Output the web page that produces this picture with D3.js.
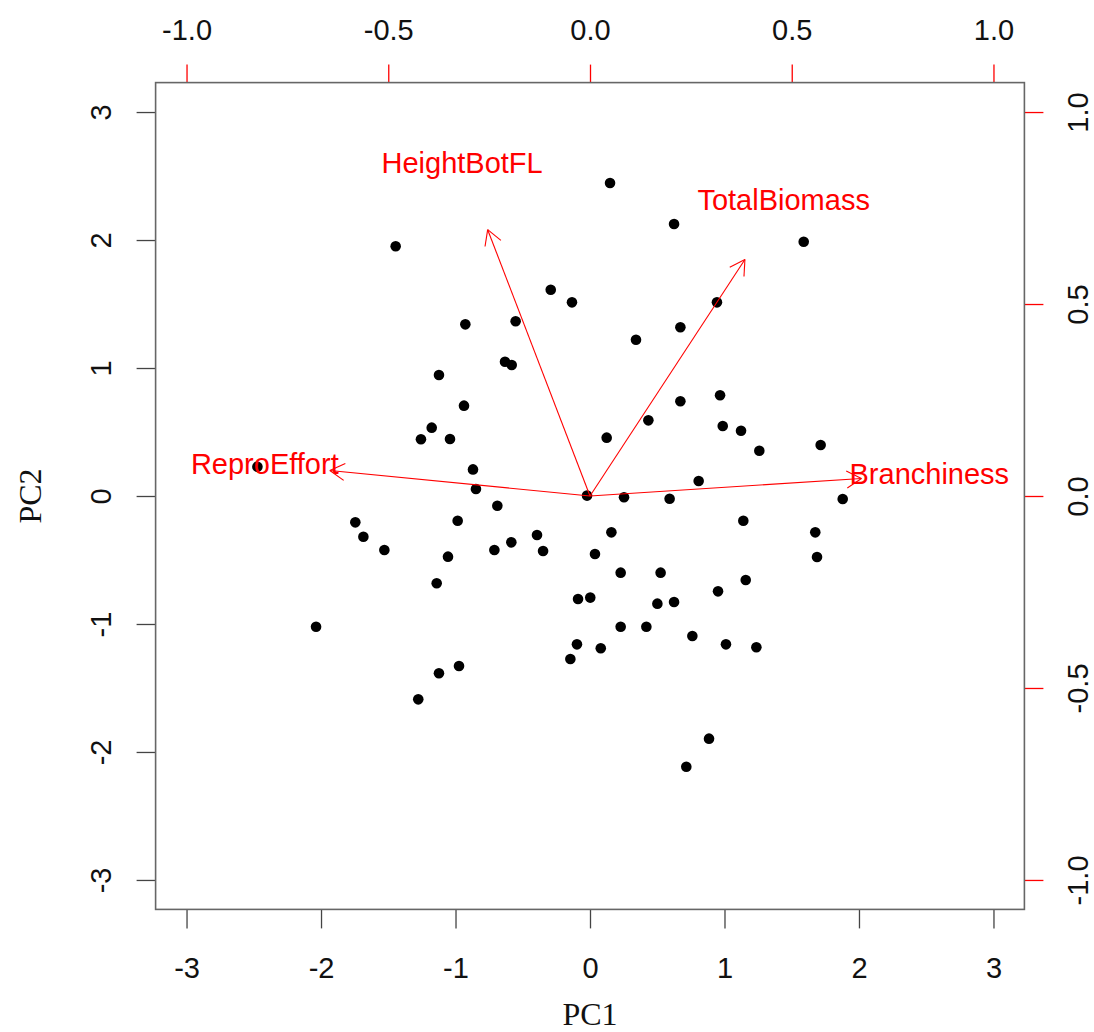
<!DOCTYPE html>
<html>
<head>
<meta charset="utf-8">
<script src="https://cdn.jsdelivr.net/npm/d3@7"></script>
<style>
  html, body { margin: 0; padding: 0; background: #fff; }
  svg { display: block; }
</style>
</head>
<body>
<svg id="chart" width="1094" height="1032"></svg>
<script>
// ---- data ----
const pc1 = [-1.445, 0.149, 0.625, -0.292, -0.134, 0.944, -0.927, -0.553, 0.672, 0.342,
  1.589, -1.123, -1.177, -1.257, -2.473, -1.745, -1.685, -1.529, -1.140, -2.037,
  -0.632, -0.582, -0.937, -1.041, 0.124, 0.434, 0.672, 0.967, 0.987, -0.870,
  -0.848, 0.808, -0.022, 0.253, 0.592, -0.689, -0.984, 0.159, -0.394, -0.585,
  -0.711, -0.349, -1.056, 0.037, 0.228, 0.525, 0.952, -0.089, 0.002, 0.501,
  0.625, 0.228, 0.419, 0.761, 1.123, 1.259, 1.715, 1.879, 1.140, 1.675,
  1.688, 1.158, -1.123, -1.277, -0.974, -0.097, -0.146, 0.080, 1.011, 0.885,
  0.716, 1.237];
const pc2 = [1.951, 2.445, 2.125, 1.612, 1.513, 1.513, 1.341, 1.365, 1.318, 1.221,
  1.987, 0.945, 0.534, 0.443, 0.229, -0.206, -0.318, -0.422, -0.682, -1.021,
  1.049, 1.023, 0.706, 0.445, 0.456, 0.591, 0.740, 0.787, 0.547, 0.208,
  0.055, 0.117, 0.003, -0.010, -0.021, -0.076, -0.193, -0.284, -0.305, -0.362,
  -0.422, -0.430, -0.474, -0.453, -0.599, -0.599, -0.745, -0.805, -0.794, -0.841,
  -0.828, -1.021, -1.021, -1.094, 0.510, 0.354, 0.398, -0.023, -0.193, -0.284,
  -0.477, -0.656, -1.385, -1.589, -1.328, -1.159, -1.273, -1.190, -1.159, -1.896,
  -2.115, -1.182];

const varNames = ["HeightBotFL", "TotalBiomass", "ReproEffort", "Branchiness"];
const loadX = [-0.317, 0.480, -0.806, 0.841];
const loadY = [0.867, 0.770, 0.083, 0.057];

const scoreTicks = [-3, -2, -1, 0, 1, 2, 3];
const loadTicks = [-1.0, -0.5, 0.0, 0.5, 1.0];

const scoreLim = [-3.23, 3.23];
const loadLim = [-3.23 / 3, 3.23 / 3];
const arrowFrac = 0.8;

// ---- layout ----
const L = 155.6, R = 1024.4, T = 82.6, B = 909.4;
const svg = d3.select("#chart");
const red = "#ff0000";
const sans = "'Liberation Sans', Arial, sans-serif";
const serif = "'Liberation Serif', 'Times New Roman', serif";

const x = d3.scaleLinear().domain(scoreLim).range([L, R]);
const y = d3.scaleLinear().domain(scoreLim).range([B, T]);
const x2 = d3.scaleLinear().domain(loadLim).range([L, R]);
const y2 = d3.scaleLinear().domain(loadLim).range([B, T]);

function styleAxis(g, col, textCol) {
  g.select(".domain").remove();
  g.selectAll(".tick line").attr("stroke", col).attr("stroke-width", 1.3);
  g.selectAll(".tick text").attr("fill", textCol).style("font-family", sans).style("font-size", "29px");
}

// bottom axis
const gB = svg.append("g").attr("transform", `translate(0,${B})`)
  .call(d3.axisBottom(x).tickValues(scoreTicks).tickSize(19).tickFormat(d => String(d)));
styleAxis(gB, "#444", "#111");
gB.selectAll(".tick text").attr("y", 58.6).attr("dy", "0.35em");

// left axis
const gL = svg.append("g").attr("transform", `translate(${L},0)`)
  .call(d3.axisLeft(y).tickValues(scoreTicks).tickSize(19).tickFormat(d => String(d)));
styleAxis(gL, "#444", "#111");
gL.selectAll(".tick text").attr("x", null).attr("dy", "0.35em")
  .attr("text-anchor", "middle").attr("transform", "translate(-55,0) rotate(-90)");

// top axis (loadings)
const gT = svg.append("g").attr("transform", `translate(0,${T})`)
  .call(d3.axisTop(x2).tickValues(loadTicks).tickSize(18).tickFormat(d => d.toFixed(1)));
styleAxis(gT, red, "#111");
gT.selectAll(".tick text").attr("y", -52.4).attr("dy", "0.35em");

// right axis (loadings)
const gR = svg.append("g").attr("transform", `translate(${R},0)`)
  .call(d3.axisRight(y2).tickValues(loadTicks).tickSize(19).tickFormat(d => d.toFixed(1)));
styleAxis(gR, red, "#111");
gR.selectAll(".tick text").attr("x", null).attr("dy", "0.35em")
  .attr("text-anchor", "middle").attr("transform", "translate(53,0) rotate(-90)");

// box
svg.append("rect").attr("x", L).attr("y", T).attr("width", R - L).attr("height", B - T)
  .attr("fill", "none").attr("stroke", "#666").attr("stroke-width", 1.6);

// points
svg.append("g").selectAll("circle").data(pc1.map((v, i) => [v, pc2[i]])).join("circle")
  .attr("cx", d => x(d[0])).attr("cy", d => y(d[1])).attr("r", 5.3).attr("fill", "#000");

// arrows
const gA = svg.append("g").attr("stroke", red).attr("stroke-width", 1.1).attr("fill", "none");
const headLen = 17, headAng = Math.PI / 6;
varNames.forEach((name, i) => {
  const x0 = x2(0), y0 = y2(0);
  const x1 = x2(loadX[i] * arrowFrac), y1 = y2(loadY[i] * arrowFrac);
  gA.append("line").attr("x1", x0).attr("y1", y0).attr("x2", x1).attr("y2", y1);
  const ang = Math.atan2(y0 - y1, x0 - x1);
  [ang + headAng, ang - headAng].forEach(a => {
    gA.append("line").attr("x1", x1).attr("y1", y1)
      .attr("x2", x1 + headLen * Math.cos(a)).attr("y2", y1 + headLen * Math.sin(a));
  });
  svg.append("text").attr("x", x2(loadX[i])).attr("y", y2(loadY[i])).attr("dy", "0.35em")
    .attr("text-anchor", "middle").attr("fill", red)
    .style("font-family", sans).style("font-size", "29px").text(name);
});

// axis titles
svg.append("text").attr("x", (L + R) / 2).attr("y", 1014).attr("dy", "0.35em")
  .attr("text-anchor", "middle").style("font-family", serif).style("font-size", "32px")
  .attr("fill", "#111").text("PC1");
svg.append("text").attr("transform", `translate(30,${(T + B) / 2}) rotate(-90)`).attr("dy", "0.35em")
  .attr("text-anchor", "middle").style("font-family", serif).style("font-size", "32px")
  .attr("fill", "#111").text("PC2");
</script>
</body>
</html>
